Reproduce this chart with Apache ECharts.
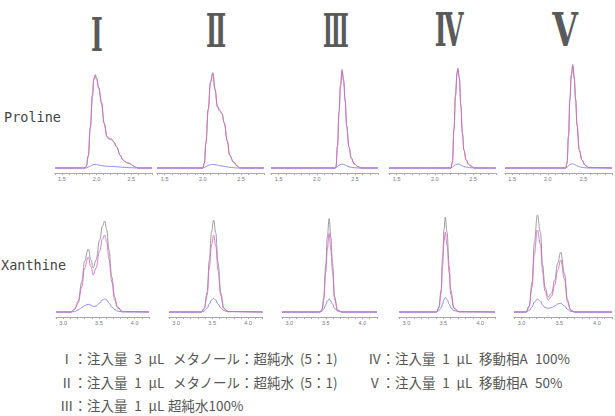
<!DOCTYPE html>
<html>
<head>
<meta charset="utf-8">
<script src="https://cdn.jsdelivr.net/npm/echarts@6/dist/echarts.min.js"></script>
<style>
html,body{margin:0;padding:0;background:#fff;}
#chart{width:615px;height:416px;}
</style>
</head>
<body>
<div id="chart"></div>
<script>
// ---------- labels ----------
const panelLabels = ['Ⅰ', 'Ⅱ', 'Ⅲ', 'Ⅳ', 'Ⅴ'];
const rowLabels = ['Proline', 'Xanthine'];
const topTickLabels = ['1.5', '2.0', '2.5'];
const bottomTickLabels = ['3.0', '3.5', '4.0'];
// note lines, split into the pieces of each line
const noteLine1 = ['Ⅰ：注入量\u20023\u2002µL', 'メタノール：超純水', '(5：1)', 'Ⅳ：注入量\u20021\u2002µL', '移動相A', '100%'];
const noteLine2 = ['Ⅱ：注入量\u20021\u2002µL', 'メタノール：超純水', '(5：1)', 'Ⅴ：注入量\u20021\u2002µL', '移動相A', '50%'];
const noteLine3 = ['Ⅲ：注入量\u20021\u2002µL', '超純水100%'];

// ---------- Proline (top row) ----------
const proT1    = [1.40,1.82,1.85,1.88,1.91,1.94,1.96,1.98,2.00,2.03,2.07,2.11,2.15,2.18,2.22,2.25,2.29,2.34,2.38,2.43,2.48,2.52,2.56,2.60,2.80];
const proPink1 = [0,0,1,12,40,72,88,92,89,80,65,44,31,29,28,26,21,13,8,5.5,4.5,2.5,1,0,0];
const proGray1 = [0,0,1,12,41,73,89,93.5,90,81,66,45,32,30,29,26,21,13,8,5.5,4.5,2.5,1,0,0];
const proBlue1 = [0,0,0,0.8,2,3,3.5,3.6,3.5,3,2.5,2,1.8,1.7,1.6,1.5,1.2,1,0.7,0.5,0.3,0.2,0,0,0];

const proT2    = [1.40,2.00,2.02,2.04,2.07,2.10,2.13,2.16,2.19,2.22,2.25,2.28,2.32,2.35,2.40,2.45,2.49,2.80];
const proPink2 = [0,0,5,25,58,85,94,78,61,57,54,45,27,13,6,2,0,0];
const proGray2 = [0,0,5,25,59,86,95.5,79,62,58,55,45,27,13,6,2,0,0];
const proBlue2 = [0,0,0.5,1.5,2.5,3.3,3.6,3.3,2.8,2.3,2,1.6,1.1,0.7,0.3,0,0,0];

const proT3    = [1.40,2.24,2.25,2.27,2.29,2.31,2.33,2.35,2.37,2.39,2.42,2.45,2.49,2.54,2.58,2.80];
const proPink3 = [0,0,1,22,55,82,97,87,67,42,21,10,4,1.3,0,0];
const proGray3 = [0,0,1,22,56,83,98.5,88,68,42,21,10,4,1.3,0,0];
const proBlue3 = [0,0,0.3,1.5,2.8,3.6,3.8,3.5,2.8,2,1.2,0.7,0.3,0,0,0];

const proT4    = [1.40,2.21,2.23,2.25,2.27,2.29,2.30,2.32,2.34,2.36,2.38,2.41,2.44,2.47,2.52,2.80];
const proPink4 = [0,0,6,38,72,94,98.5,90,62,35,18,8,4,2,0,0];
const proGray4 = [0,0,6,39,73,95,100,91,63,35,18,8,4,2,0,0];
const proBlue4 = [0,0,0.8,2.2,3.3,3.9,4,3.7,3,2.2,1.5,0.9,0.5,0.2,0,0];

const proT5    = [1.40,2.25,2.27,2.29,2.31,2.33,2.35,2.37,2.39,2.41,2.44,2.48,2.52,2.57,2.90];
const proPink5 = [0,0,5,31,68,92,102,90,68,43,18,8,3,0.5,0];
const proGray5 = [0,0,5,32,69,93,103.5,91,69,43,18,8,3,0.5,0];
const proBlue5 = [0,0,0.8,2.2,3.4,4,4.1,3.7,3,2.2,1.3,0.6,0.2,0,0];

// ---------- Xanthine (bottom row) ----------
const xanT1    = [2.90,3.11,3.16,3.21,3.26,3.30,3.35,3.39,3.42,3.46,3.51,3.55,3.58,3.61,3.64,3.68,3.72,3.76,3.83,4.20];
const xanGray1 = [0,0,3,11,30,51,63,52,44,52,72,86,91,82,62,35,15,5,0.5,0];
const xanPink1 = [0,0,2.5,9,25,44,55,45,37,44,61,73,77,70,53,30,12,4,0.5,0];
const xanBlue1 = [0,0,0.5,2,4.5,6.5,7.7,6.8,5.5,6,9,12,13,12,9,5,2.5,1,0,0];

const xanT2    = [2.90,3.35,3.39,3.43,3.46,3.49,3.52,3.55,3.58,3.62,3.66,3.72,4.20];
const xanGray2 = [0,0,4,20,52,80,92,79,50,19,4,0.5,0];
const xanPink2 = [0,0,3.5,17,44,67,77,66,42,16,3.5,0.5,0];
const xanBlue2 = [0,0,1,4,8,12,13.5,12,8,4,1.5,0.3,0];

const xanT3    = [2.90,3.42,3.45,3.47,3.50,3.52,3.545,3.57,3.59,3.62,3.66,3.72,4.20];
const xanGray3 = [0,0,3,14,48,75,93.5,74,50,15,2,0,0];
const xanPink3 = [0,0,2.5,12,40,63,78.5,62,42,12.5,1.7,0,0];
const xanBlue3 = [0,0,1,3,7.5,11,13,11,8,3.5,1,0,0];

const xanT4    = [2.90,3.41,3.44,3.47,3.49,3.51,3.527,3.55,3.58,3.60,3.645,3.71,4.20];
const xanGray4 = [0,0,5,22,55,83,95,80,46,22,4,0.3,0];
const xanPink4 = [0,0,4,18,46,70,80,67,39,18,3.5,0.3,0];
const xanBlue4 = [0,0,1.5,4,8,12.5,14.5,12.5,8,4.5,1.5,0.2,0];

const xanT5    = [2.90,3.06,3.10,3.14,3.17,3.21,3.25,3.28,3.31,3.355,3.40,3.44,3.48,3.52,3.57,3.61,3.65,3.71,4.20];
const xanGray5 = [0,0,6,30,69,97,80,47,25,15,19,32,49,60,38,12,2,0,0];
const xanPink5 = [0,0,5,25,58,82,68,40,21,12,16,27,42,52,33,10,2,0,0];
const xanBlue5 = [0,0,1.5,5,10,13,11,7,4.5,3.7,4.5,6,8,8.7,6,2.5,0.7,0,0];

// ---------- assembly ----------
const panels = [
  {t: proT1, g: proGray1, p: proPink1, b: proBlue1},
  {t: proT2, g: proGray2, p: proPink2, b: proBlue2},
  {t: proT3, g: proGray3, p: proPink3, b: proBlue3},
  {t: proT4, g: proGray4, p: proPink4, b: proBlue4},
  {t: proT5, g: proGray5, p: proPink5, b: proBlue5},
  {t: xanT1, g: xanGray1, p: xanPink1, b: xanBlue1},
  {t: xanT2, g: xanGray2, p: xanPink2, b: xanBlue2},
  {t: xanT3, g: xanGray3, p: xanPink3, b: xanBlue3},
  {t: xanT4, g: xanGray4, p: xanPink4, b: xanBlue4},
  {t: xanT5, g: xanGray5, p: xanPink5, b: xanBlue5}
];

// layout (positions only)
const layout = [
  {left: 55,  width: 97,    min: 1.4, max: 2.8},
  {left: 157, width: 107,   min: 1.4, max: 2.8},
  {left: 271, width: 107,   min: 1.4, max: 2.8},
  {left: 389, width: 107,   min: 1.4, max: 2.8},
  {left: 505, width: 112.5, min: 1.4, max: 2.9},
  {left: 56,  width: 93,    min: 2.9, max: 4.2},
  {left: 169, width: 93.6,  min: 2.9, max: 4.2},
  {left: 282, width: 95,    min: 2.9, max: 4.2},
  {left: 399, width: 96,    min: 2.9, max: 4.2},
  {left: 514, width: 99,    min: 2.9, max: 4.2}
];

const grids = [], xAxes = [], yAxes = [], series = [];
layout.forEach((L, i) => {
  const top = i < 5;
  grids.push({left: L.left, width: L.width, top: top ? 63 : 212, height: top ? 110 : 105});
  const ticks = top ? topTickLabels : bottomTickLabels;
  xAxes.push({
    type: 'value', gridIndex: i, min: L.min, max: L.max, interval: 0.1,
    axisLine: {onZero: false, lineStyle: {color: '#a8a8a8', width: 1}},
    axisTick: {show: true, length: 2, lineStyle: {color: '#a8a8a8'}},
    splitLine: {show: false},
    axisLabel: {
      fontSize: 5.5, color: '#777', margin: 3, hideOverlap: false,
      formatter: v => { const s = (Math.round(v * 10) / 10).toFixed(1); return ticks.indexOf(s) >= 0 ? s : ''; }
    }
  });
  yAxes.push({type: 'value', gridIndex: i, min: -5, max: top ? 105 : 100, show: false});
  const P = panels[i];
  const mk = (vals, color, z, op) => ({
    type: 'line', xAxisIndex: i, yAxisIndex: i, showSymbol: false, symbol: 'none',
    smooth: 0.4, smoothMonotone: 'x', z: z, silent: true,
    lineStyle: {color: color, width: 1, opacity: op},
    data: P.t.map((t, k) => [t, vals[k]])
  });
  series.push(mk(P.g, '#9c9c9c', 2, 1));
  series.push(mk(P.b, '#8c8ce8', 3, 1));
  series.push(mk(P.p, '#d866c8', 4, 0.85));
});

const romanPos = [[97, 35, 0.55], [216, 31.5, 0.52], [336, 30.5, 0.46], [449, 29.5, 0.55], [565, 29, 0.72]];
const graphic = [];
panelLabels.forEach((s, i) => {
  graphic.push({type: 'text', x: romanPos[i][0], y: romanPos[i][1], scaleX: romanPos[i][2],
    style: {text: s, fontSize: 46, fontFamily: 'DejaVu Serif', fontWeight: 'bold', fill: '#5a5a5a', align: 'center', verticalAlign: 'middle'}});
});
graphic.push({type: 'text', x: 4, y: 117, style: {text: rowLabels[0], fontSize: 13.5, fontFamily: 'DejaVu Sans Mono', fill: '#444', verticalAlign: 'middle'}});
graphic.push({type: 'text', x: 1, y: 265, style: {text: rowLabels[1], fontSize: 13.5, fontFamily: 'DejaVu Sans Mono', fill: '#444', verticalAlign: 'middle'}});

const noteFont = 'Noto Sans CJK JP';
const noteX12 = [60, 173, 300, 368, 479, 535];
const noteX3 = [60, 168];
const addNote = (arr, xs, y) => arr.forEach((s, k) => graphic.push({type: 'text', x: xs[k], y: y,
  style: {text: s, fontSize: 13.5, fontFamily: noteFont, fill: '#555', verticalAlign: 'middle'}}));
addNote(noteLine1, noteX12, 358);
addNote(noteLine2, noteX12, 382);
addNote(noteLine3, noteX3, 405);

const chart = echarts.init(document.getElementById('chart'), null, {renderer: 'svg'});
chart.setOption({
  animation: false,
  backgroundColor: '#fff',
  grid: grids, xAxis: xAxes, yAxis: yAxes, series: series, graphic: graphic
});
</script>
</body>
</html>
